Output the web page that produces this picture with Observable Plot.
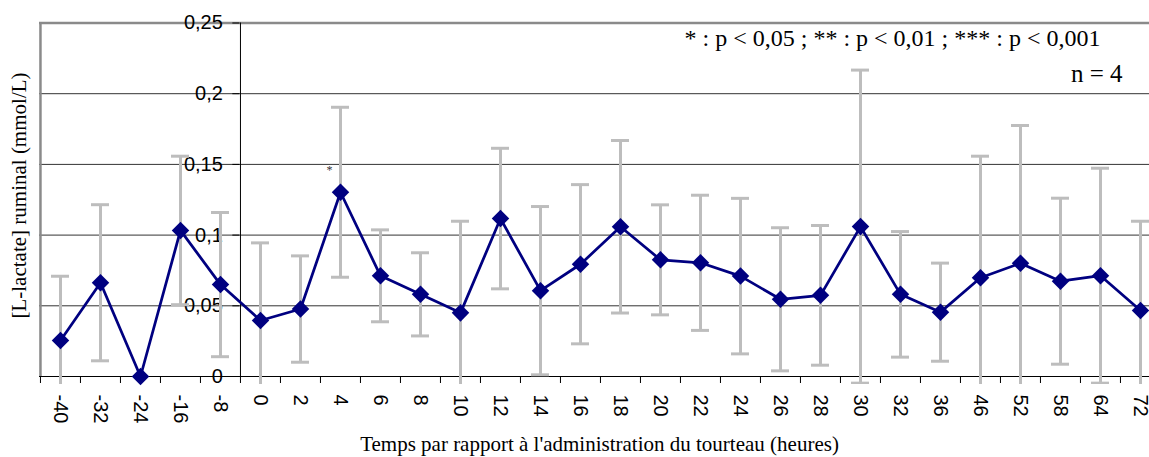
<!DOCTYPE html>
<html>
<head>
<meta charset="utf-8">
<script src="https://cdn.jsdelivr.net/npm/d3@7"></script>
<script src="https://cdn.jsdelivr.net/npm/@observablehq/plot@0.6"></script>
<style>
  html, body { margin: 0; padding: 0; background: #fff; overflow: hidden; }
  #chart svg { display: block; }
</style>
</head>
<body>
<div id="chart"></div>
<script>
// Sampling times (hours relative to the meal) and ruminal L-lactate, mean ± SD, n = 4
const times = ["-40", "-32", "-24", "-16", "-8", "0", "2", "4", "6", "8", "10", "12", "14", "16",
               "18", "20", "22", "24", "26", "28", "30", "32", "36", "46", "52", "58", "64", "72"];
const meanLactate = [0.0255, 0.0663, 0.0, 0.1033, 0.065, 0.0396, 0.0477, 0.1303, 0.0712, 0.0581,
                     0.045, 0.1117, 0.0607, 0.0794, 0.1059, 0.0825, 0.0804, 0.071, 0.0546, 0.0574,
                     0.106, 0.0581, 0.0455, 0.0698, 0.0801, 0.0674, 0.0713, 0.0467];
const sdLactate = [0.0454, 0.0552, 0, 0.0525, 0.051, 0.0549, 0.0376, 0.0601, 0.0325, 0.0294,
                   0.0648, 0.0497, 0.0595, 0.0563, 0.061, 0.0389, 0.0478, 0.055, 0.0506, 0.0494,
                   0.1107, 0.0444, 0.0347, 0.086, 0.0974, 0.0587, 0.076, 0.0631];

const yTicks = [0, 0.05, 0.1, 0.15, 0.2, 0.25];
const yTickLabels = ["0", "0,05", "0,1", "0,15", "0,2", "0,25"];
const gridValues = [0.05, 0.1, 0.15, 0.2];

const significance = [{time: "4", label: "*"}];
const pLegend = "* : p < 0,05 ; ** : p < 0,01 ; *** : p < 0,001";
const nLabel = "n = 4";
const xTitle = "Temps par rapport à l'administration du tourteau (heures)";
const yTitle = "[L-lactate] ruminal (mmol/L)";

const rows = times.map((t, i) => ({
  time: t,
  mean: meanLactate[i],
  sd: sdLactate[i],
  lo: meanLactate[i] - sdLactate[i],
  hi: meanLactate[i] + sdLactate[i]
}));
const withSd = rows.filter(d => d.sd > 0);

// layout
const W = 1149, H = 457;
const mLeft = 39, mTop = 22, mBottom = 73;
const xRange = [39, 1161];           // the category axis runs on past the right edge
const yRange = [376, 22.5];
const bw = (xRange[1] - xRange[0]) / times.length;
const half = bw / 2;
const yAxisShift = times.indexOf("0") * bw;  // value axis crosses between -8 and 0

const sans = "Liberation Sans, Arial, sans-serif";
const serif = "Liberation Serif, Times New Roman, serif";
const barGray = "#bdbdbd";
const navy = "#000080";

const chart = Plot.plot({
  width: W,
  height: H,
  marginLeft: mLeft,
  marginRight: 0,
  marginTop: mTop,
  marginBottom: mBottom,
  style: {fontFamily: sans, background: "#fff"},
  x: {type: "band", domain: times, range: xRange, padding: 0, axis: null},
  y: {domain: [0, 0.25], range: yRange, axis: null},
  marks: [
    // horizontal gridlines
    Plot.ruleY(gridValues, {stroke: "#333", strokeWidth: 1}),
    // plot-area border (top and left)
    Plot.ruleY([0.25], {stroke: "#8a8a8a", strokeWidth: 2.5}),
    Plot.ruleX([times[0]], {dx: -half, y1: 0, y2: 0.25, stroke: "#8a8a8a", strokeWidth: 2.5}),
    // category axis line and boundary ticks
    Plot.ruleY([0], {stroke: "#000", strokeWidth: 1}),
    Plot.axisX({tickSize: 7, tickFormat: () => "", dx: -half, dy: -8, stroke: "#000", label: null}),
    // value axis line
    Plot.ruleX(["0"], {dx: -half, y1: 0, y2: 0.25, stroke: "#000", strokeWidth: 1}),
    Plot.axisY({
      ticks: yTicks,
      tickFormat: d => yTickLabels[yTicks.indexOf(d)],
      tickSize: 7,
      tickPadding: 10,
      dx: yAxisShift,
      fontSize: 20,
      fontFamily: sans,
      label: null
    }),
    // error bars (±SD)
    Plot.ruleX(withSd, {x: "time", y1: "lo", y2: "hi", stroke: barGray, strokeWidth: 3, clip: true}),
    Plot.tickY(withSd, {x: "time", y: "hi", stroke: barGray, strokeWidth: 3, insetLeft: 11, insetRight: 11, clip: true}),
    Plot.tickY(withSd, {x: "time", y: "lo", stroke: barGray, strokeWidth: 3, insetLeft: 11, insetRight: 11, clip: true}),
    // mean series
    Plot.line(rows, {x: "time", y: "mean", stroke: navy, strokeWidth: 2.75}),
    Plot.dot(rows, {x: "time", y: "mean", symbol: "diamond2", r: 7.9, fill: navy, stroke: "none"}),
    // category labels
    Plot.axisX({
      tickSize: 0,
      tickPadding: 10,
      tickRotate: 90,
      fontSize: 20,
      fontFamily: sans,
      label: null
    }),
    // significance mark
    Plot.text(significance, {x: "time", y: () => 0.149, text: "label", dx: -11, dy: 4, fontSize: 12, fontFamily: serif, fill: "#333"}),
    // annotations
    Plot.text([pLegend], {frameAnchor: "top-right", textAnchor: "end", lineAnchor: "middle",
      dx: -49, dy: 16, fontSize: 24, fontFamily: serif, fill: "#000"}),
    Plot.text([nLabel], {frameAnchor: "top-right", textAnchor: "end", lineAnchor: "middle",
      dx: -27, dy: 51, fontSize: 25, fontFamily: serif, fill: "#000"}),
    // axis titles
    Plot.text([xTitle], {frameAnchor: "bottom", textAnchor: "middle", lineAnchor: "middle", dx: 5, dy: 60,
      fontSize: 21, fontFamily: serif, fill: "#000"}),
    Plot.text([yTitle], {frameAnchor: "left", textAnchor: "middle", rotate: -90, lineAnchor: "middle", dx: -20, dy: -8,
      fontSize: 21, fontFamily: serif, fill: "#000"})
  ]
});

document.getElementById("chart").appendChild(chart);
</script>
</body>
</html>
